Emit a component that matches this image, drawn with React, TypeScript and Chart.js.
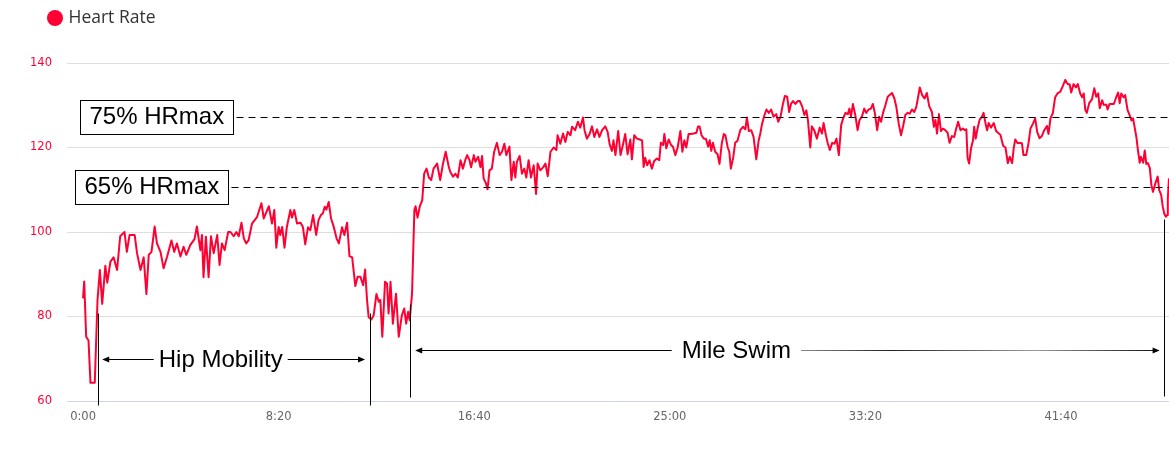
import { useEffect, useRef } from 'react';
import { Chart, registerables } from 'chart.js';

Chart.register(...registerables);

const SERIES_NAME = 'Heart Rate';
const SERIES_COLOR = '#ff0033';

// elapsed time (seconds) and heart rate (bpm)
const elapsedSeconds = [
  0, 3, 8, 14, 19, 30, 37, 43, 49, 57, 62, 70, 78, 87, 95, 106, 112, 119, 132, 138,
  147, 155, 162, 168, 175, 183, 189, 198, 206, 215, 226, 233, 240, 249, 257, 264, 274, 285, 291, 300,
  304, 308, 314, 321, 327, 334, 343, 349, 355, 362, 371, 377, 385, 392, 398, 405, 411, 417, 423, 432,
  445, 456,
  462, 475, 483, 489, 494, 500, 504, 509, 515, 521, 530, 534, 540, 547, 556, 562, 568, 575, 581, 588,
  596, 602, 608, 613, 618, 622, 628, 634, 641, 648, 654, 662, 668, 675, 681, 688, 696, 702, 709, 716,
  721, 726, 730, 737, 743, 750, 756, 760, 765, 772, 777, 781, 786, 792, 800, 807, 815, 821, 826, 831,
  835, 841, 847, 850, 855, 861, 867, 872, 878, 884, 890, 896, 905, 913, 920, 927, 935,
  939, 946, 952, 958, 965, 971, 977, 982, 988, 992, 999, 1003, 1010, 1016, 1020, 1024, 1030, 1034, 1039, 1045,
  1051, 1058, 1065, 1071, 1077, 1082, 1090, 1095, 1101, 1105, 1109, 1116, 1122, 1128, 1133, 1139, 1145, 1152, 1158, 1162,
  1169, 1176, 1182, 1188, 1195, 1203, 1210, 1213, 1220, 1227, 1233, 1239, 1246, 1250, 1258, 1265, 1271, 1278, 1282, 1288,
  1295, 1301, 1307, 1314, 1320, 1327, 1335, 1341, 1346, 1352, 1356, 1361, 1368, 1374, 1380, 1386, 1392, 1399, 1403, 1409,
  1416, 1423,
  1429, 1433, 1437, 1442, 1448, 1454, 1460, 1467, 1473, 1477, 1483, 1486, 1491, 1497, 1503, 1508, 1514, 1520, 1527, 1532,
  1537, 1542, 1548, 1554, 1561, 1568, 1572, 1576, 1581, 1587, 1592, 1598, 1602, 1606, 1610, 1616, 1622, 1627, 1633, 1638,
  1642, 1648, 1652, 1656, 1662, 1667, 1673, 1680, 1687, 1693, 1697, 1702, 1708, 1714, 1721, 1727, 1731, 1736, 1742, 1747,
  1753, 1759, 1765, 1772, 1777, 1783, 1788, 1794, 1800, 1805, 1810, 1815, 1821, 1827, 1832, 1838, 1844, 1849, 1853, 1859,
  1863, 1869, 1876, 1883, 1889, 1893, 1899, 1904, 1909,
  1915, 1921, 1926, 1932, 1938, 1943, 1949, 1955, 1959, 1963, 1968, 1974, 1980, 1985, 1991, 1997, 2002, 2008, 2014, 2019,
  2024, 2030, 2035, 2040, 2045, 2051, 2057, 2062, 2068, 2074, 2079, 2085, 2091, 2096, 2102, 2108, 2113, 2119, 2125, 2130,
  2134, 2139, 2145, 2151, 2157, 2163, 2170, 2175, 2179, 2183, 2188, 2193, 2198, 2204, 2210, 2215, 2221, 2227, 2232, 2237,
  2243, 2249, 2254, 2258, 2261, 2265, 2270, 2275, 2278, 2282, 2287, 2292, 2298, 2302, 2307, 2311, 2315, 2321, 2328, 2334,
  2341,
  2345, 2352, 2358, 2364, 2369, 2375, 2379, 2383, 2389, 2394, 2400, 2404, 2411, 2417, 2422, 2428, 2434, 2439, 2445, 2451,
  2457, 2464, 2468, 2473, 2479, 2485, 2491, 2498, 2504, 2511, 2517, 2522, 2526, 2532, 2538, 2543, 2549, 2554, 2558, 2562,
  2566, 2572, 2579, 2585, 2590, 2595, 2599, 2605, 2609, 2616, 2619, 2624, 2635, 2641, 2646, 2650, 2654, 2660, 2664, 2670,
  2675, 2680, 2684, 2688, 2693, 2696, 2701, 2704, 2710, 2714, 2718, 2722, 2727, 2731, 2735, 2741, 2747, 2751, 2756, 2760,
  2764, 2768, 2771, 2773, 2776,
];

const heartRate = [
  84.3, 88.3, 75.2, 74.3, 64.3, 64.3, 83.9, 91, 83, 92, 88, 93, 94, 91, 99, 100, 95.3, 99.3, 99.3, 95,
  91, 94, 85.3, 94.6, 95.3, 101.3, 97.3, 95.3, 91.4, 94.2, 98, 95.3, 97.3, 94.2, 96.5, 94.6, 96.9, 98.3, 101.3, 95.7,
  99.3, 89.3, 98.9, 89.3, 99, 95, 99.3, 92.2, 97.3, 95.7, 100, 100, 99, 100, 99, 102.2, 98.5, 97.3, 98, 102,
  103.6, 106.8,
  103.2, 106.1, 102, 105.2, 96.3, 101.2, 99.3, 101.2, 96.3, 101.2, 105.2, 103.4, 105.2, 102, 102.2, 101.2, 97.1, 101.1, 100.4, 104,
  99.3, 102.8, 104, 104.4, 106, 105.3, 107.1, 103.2, 101.2, 98.5, 97.3, 101.1, 99.3, 102.2, 94.3, 94, 87.2, 89.4, 89.4, 87.4,
  91.1, 83.9, 79.9, 79.3, 80.3, 85.3, 83.5, 83.9, 75.2, 88.2, 87.8, 80.7, 88.2, 78.3, 85.4, 75.2, 80.3, 81.9, 78.3, 81.1,
  79.1, 85.4, 105.2, 106.1, 103.4, 106.1, 107.5, 113.8, 115, 112.9, 112.3, 115, 116.2, 112.3, 116.1, 119, 115.4,
  114.2, 113.1, 113.8, 112.9, 117, 115, 117, 118.2, 117, 115.3, 118.2, 116.6, 117.8, 115.3, 118, 112.7, 111.5, 110.1, 114.6, 115,
  119, 121.1, 118.2, 119, 120.9, 118.2, 120.2, 112.3, 116.6, 112.9, 116.6, 118, 113.8, 115, 112.9, 117, 112.9, 115.8, 109, 116.2,
  114.6, 115.3, 116.2, 113.2, 119, 120, 119.4, 122.9, 120.9, 123.3, 121.3, 123.7, 122.9, 124.9, 124.1, 126.1, 124.7, 127.1, 124.1, 122.1,
  123.2, 125, 122.5, 124.3, 122.5, 124.1, 125, 123.7, 120.8, 119.2, 121.7, 118.2, 123.9, 118.2, 120.6, 123.2, 118.4, 121.9, 117.2, 122.9,
  122.1, 121.9,
  121.7, 115.4, 117.6, 115.8, 117, 115, 116.8, 117.4, 117, 121.1, 120.6, 123.2, 119.8, 121.9, 120.6, 120.2, 118.2, 120, 123.9, 119,
  121.7, 120, 123.2, 123.2, 123.3, 123.5, 125, 125, 122.9, 122.1, 122.1, 120.2, 121.7, 119.2, 121.1, 119, 118.4, 116.1, 121.1, 123.2,
  122.9, 120, 119, 115, 117.6, 121.1, 121.6, 124.1, 124.9, 124.3, 127.1, 123.9, 124.1, 122.5, 117.2, 121.6, 123.2, 125.7, 127.7, 129,
  128.2, 129, 127.3, 127.9, 126.1, 127.3, 129.8, 132.2, 132, 128.4, 130.4, 131, 130.3, 131, 131, 129.8, 127.7, 128.8, 126.5, 120,
  125, 124.1, 122.1, 124.7, 123.3, 125.8, 122.9, 120.9, 119.4,
  121.1, 120.9, 122.1, 118.2, 125.3, 126.9, 128.2, 127.9, 129.2, 127.3, 130.3, 127.7, 124.1, 126.5, 127.3, 129.2, 128.2, 129, 129.2, 130.3,
  128.2, 124.1, 127.3, 126.1, 128.2, 130, 132, 132.4, 132.9, 131.6, 129.6, 125.7, 122.9, 124.9, 127.7, 128.2, 128, 129, 128.4, 129.6,
  131.6, 134.2, 132.4, 131.6, 132.9, 129.8, 128.4, 124.9, 126.5, 123.3, 127.9, 123.9, 124.5, 124.1, 123.5, 121.1, 122.7, 122.5, 124.5, 126.1,
  124.1, 124.5, 124.1, 124.3, 117.6, 116.2, 119.8, 121.7, 124.9, 122.1, 124.7, 126.6, 127.3, 128.2, 125.7, 124.1, 125.8, 124.7, 125.8, 123.9,
  123.3,
  123, 120.4, 120, 116.3, 117.8, 116.3, 119.8, 121.9, 121, 121.1, 121, 118.2, 118.2, 121.1, 124.5, 125.6, 126.9, 123.7, 122.2, 122.7,
  124.1, 125.1, 123.2, 126.9, 128.1, 131.9, 132.8, 133.2, 134.4, 136, 135, 135, 133, 135, 134.2, 135, 132.8, 131.9, 132.8, 128.9,
  128.2, 130.5, 131.4, 134, 132, 132.8, 129.3, 131.2, 130.1, 130.1, 129, 130.3, 130.3, 131.9, 133, 130.5, 132.8, 131.9, 132.4, 128.9,
  127.7, 126.4, 126.9, 124.9, 122.2, 119.8, 116.4, 117.8, 116.4, 119.3, 116.1, 116.3, 115.1, 111.1, 109.5, 111.5, 113.1, 109.9, 108.8, 106,
  104.3, 103.6, 104, 108, 112.7,
];

// axis ticks
const X_TICKS = [0, 500, 1000, 1500, 2000, 2500];
const Y_TICKS = [60, 80, 100, 120, 140];
const X_RANGE = [-41, 2776];

// heart-rate zone lines
const ZONE_LABELS = ['75% HRmax', '65% HRmax'];
const ZONE_VALUES = [127.2, 110.6];
const ZONE_LABEL_START = [-9, -21];

// activity segments (times in seconds, arrow heights in bpm)
const SEGMENT_LABELS = ['Hip Mobility', 'Mile Swim'];
const SEGMENT_FROM = [49, 849];
const SEGMENT_TO = [721, 2752];
const SEGMENT_TEXT_AT = [352, 1670];
const SEGMENT_ARROW_AT = [70, 72.1];

// vertical marker lines
const MARKER_TIMES = [37, 733, 837, 2762];
const MARKER_TOP = [80.8, 80.8, 83, 103];
const MARKER_BOTTOM = [59, 59, 61, 61.2];

function formatTime(sec: number) {
  const m = Math.floor(sec / 60);
  const s = Math.round(sec - m * 60);
  return `${m}:${String(s).padStart(2, '0')}`;
}

const overlayPlugin = {
  id: 'hrOverlay',
  afterDraw(chart: any) {
    const { ctx, chartArea } = chart;
    const xs = chart.scales.x;
    const ys = chart.scales.y;
    const px = (v: number) => Math.round(xs.getPixelForValue(v)) + 0.5;
    const py = (v: number) => Math.round(ys.getPixelForValue(v)) + 0.5;
    ctx.save();

    // legend
    const ds = chart.data.datasets[0];
    ctx.fillStyle = ds.borderColor;
    ctx.beginPath();
    ctx.arc(55, 18, 8, 0, Math.PI * 2);
    ctx.fill();
    ctx.font = '17.5px "Open Sans", sans-serif';
    ctx.fillStyle = '#333333';
    ctx.textAlign = 'left';
    ctx.textBaseline = 'middle';
    ctx.fillText(ds.label, 68.5, 18.5);

    // zone lines with boxed labels
    ctx.font = '24px "Liberation Sans", Arial, sans-serif';
    ctx.strokeStyle = '#000';
    ctx.fillStyle = '#000';
    ctx.lineWidth = 1;
    ZONE_LABELS.forEach((label, i) => {
      const yy = py(ZONE_VALUES[i]);
      const left = px(ZONE_LABEL_START[i]);
      const w = Math.round(ctx.measureText(label).width + 18);
      const h = 34;
      ctx.setLineDash([]);
      ctx.strokeRect(left, yy - 17, w, h);
      ctx.textAlign = 'left';
      ctx.fillText(label, left + 9, yy);
      ctx.setLineDash([7, 5]);
      ctx.beginPath();
      ctx.moveTo(left + w + 3, yy);
      ctx.lineTo(chartArea.right, yy);
      ctx.stroke();
    });
    ctx.setLineDash([]);

    // vertical markers
    MARKER_TIMES.forEach((t, i) => {
      const xx = px(t);
      ctx.beginPath();
      ctx.moveTo(xx, py(MARKER_TOP[i]));
      ctx.lineTo(xx, py(MARKER_BOTTOM[i]));
      ctx.stroke();
    });

    // segment arrows
    const gaps = [5, 10];
    SEGMENT_LABELS.forEach((label, i) => {
      const yy = py(SEGMENT_ARROW_AT[i]);
      const a = xs.getPixelForValue(SEGMENT_FROM[i]);
      const b = xs.getPixelForValue(SEGMENT_TO[i]);
      const c = xs.getPixelForValue(SEGMENT_TEXT_AT[i]);
      const tw = ctx.measureText(label).width;
      ctx.fillStyle = '#000';
      ctx.textAlign = 'center';
      ctx.fillText(label, c, yy + 0.5);
      ctx.strokeStyle = '#000';
      ctx.beginPath();
      ctx.moveTo(a + 4, yy);
      ctx.lineTo(c - tw / 2 - gaps[i], yy);
      ctx.stroke();
      const rs = c + tw / 2 + gaps[i];
      if (i === 1) {
        const g = ctx.createLinearGradient(rs, 0, b, 0);
        g.addColorStop(0, '#8a8a8a');
        g.addColorStop(0.25, '#222');
        g.addColorStop(0.65, '#9a9a9a');
        g.addColorStop(1, '#111');
        ctx.strokeStyle = g;
      }
      ctx.beginPath();
      ctx.moveTo(rs, yy);
      ctx.lineTo(b - 4, yy);
      ctx.stroke();
      ctx.fillStyle = '#000';
      ctx.beginPath();
      ctx.moveTo(a, yy);
      ctx.lineTo(a + 7, yy - 3);
      ctx.lineTo(a + 7, yy + 3);
      ctx.closePath();
      ctx.fill();
      ctx.beginPath();
      ctx.moveTo(b, yy);
      ctx.lineTo(b - 7, yy - 3);
      ctx.lineTo(b - 7, yy + 3);
      ctx.closePath();
      ctx.fill();
    });

    ctx.restore();
  },
};

export default function App() {
  const canvasRef = useRef<HTMLCanvasElement | null>(null);

  useEffect(() => {
    if (!canvasRef.current) return;
    const points = elapsedSeconds.map((t, i) => ({ x: t, y: heartRate[i] }));
    const chart = new Chart(canvasRef.current, {
      type: 'line',
      data: {
        datasets: [
          {
            label: SERIES_NAME,
            data: points,
            borderColor: SERIES_COLOR,
            backgroundColor: SERIES_COLOR,
            borderWidth: 2,
            pointRadius: 0,
            tension: 0,
            borderJoinStyle: 'round',
            fill: false,
          },
        ],
      },
      options: {
        animation: false,
        responsive: false,
        devicePixelRatio: 1,
        layout: { padding: { top: 63, left: 0, right: 0, bottom: 0 } },
        plugins: {
          legend: { display: false },
          tooltip: { enabled: false },
        },
        scales: {
          x: {
            type: 'linear',
            min: X_RANGE[0],
            max: X_RANGE[1],
            afterBuildTicks: (scale: any) => {
              scale.ticks = X_TICKS.map((v) => ({ value: v }));
            },
            afterFit: (scale: any) => {
              scale.height = 52;
            },
            grid: { display: false, drawTicks: false },
            border: { display: true, color: '#ccd6eb', width: 1 },
            ticks: {
              autoSkip: false,
              maxRotation: 0,
              padding: 9,
              color: '#666666',
              font: { family: '"DejaVu Sans", sans-serif', size: 11.5 },
              callback: (v: any) => formatTime(Number(v)),
            },
          },
          y: {
            min: Y_TICKS[0],
            max: Y_TICKS[Y_TICKS.length - 1],
            afterBuildTicks: (scale: any) => {
              scale.ticks = Y_TICKS.map((v) => ({ value: v }));
            },
            afterFit: (scale: any) => {
              scale.width = 67;
            },
            grid: { color: '#dedede', lineWidth: 1, drawTicks: false },
            border: { display: false },
            ticks: {
              padding: 15,
              color: SERIES_COLOR,
              font: { family: '"DejaVu Sans", sans-serif', size: 11.5 },
            },
          },
        },
      } as any,
      plugins: [overlayPlugin],
    });
    return () => chart.destroy();
  }, []);

  return (
    <div style={{ position: 'absolute', left: 0, top: 0, width: 1169, height: 453, background: '#fff' }}>
      <canvas ref={canvasRef} width={1169} height={453} style={{ width: 1169, height: 453, display: 'block' }} />
    </div>
  );
}
